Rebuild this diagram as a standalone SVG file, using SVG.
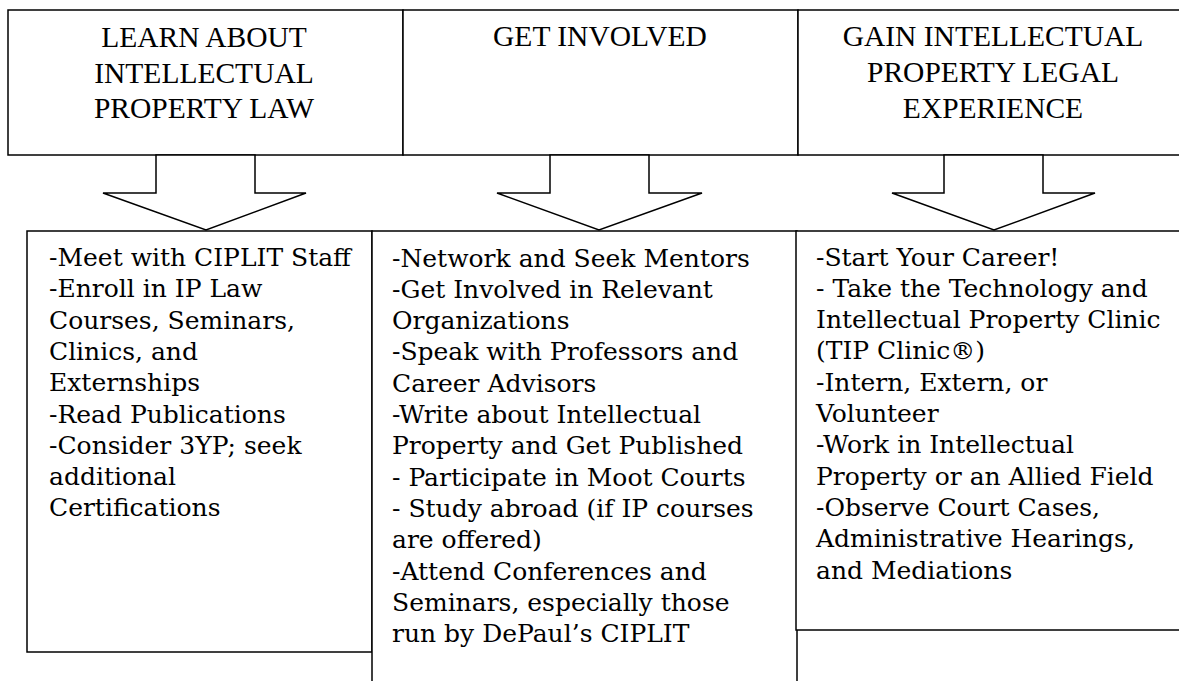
<svg xmlns="http://www.w3.org/2000/svg" width="1179" height="681" viewBox="0 0 1179 681">
<style>
.box{fill:#fff;stroke:#000;stroke-width:1.5}
.arrow{fill:#fff;stroke:#000;stroke-width:1.5;stroke-linejoin:miter}
.title{font-family:"Liberation Serif","Times New Roman",serif;font-size:29.5px;fill:#000;text-anchor:middle}
.body{font-family:"DejaVu Serif","Liberation Serif",serif;font-size:25px;fill:#000}
</style>
<rect width="1179" height="681" fill="#fff"/>
<g id="head1">
<rect class="box" x="8" y="10" width="395" height="145"/>
<text class="title"><tspan x="204" y="47">LEARN ABOUT</tspan><tspan x="204" y="82.5">INTELLECTUAL</tspan><tspan x="204" y="118">PROPERTY LAW</tspan></text>
</g>
<g id="head2">
<rect class="box" x="403" y="10" width="395" height="145"/>
<text class="title"><tspan x="600" y="46">GET INVOLVED</tspan></text>
</g>
<g id="head3">
<rect class="box" x="798" y="10" width="392" height="145"/>
<text class="title"><tspan x="993" y="46">GAIN INTELLECTUAL</tspan><tspan x="993" y="82">PROPERTY LEGAL</tspan><tspan x="993" y="118">EXPERIENCE</tspan></text>
</g>
<g id="connectors">
<polygon class="arrow" points="156,155 156,193 103,193 206,230 306,193 255,193 255,155"/>
<polygon class="arrow" points="550,155 550,193 497,193 599,230 702,193 649,193 649,155"/>
<polygon class="arrow" points="944,155 944,193 892,193 994,230 1095,193 1043,193 1043,155"/>
</g>
<g id="list1">
<rect class="box" x="27" y="231" width="345" height="421"/>
<text class="body"><tspan x="49" y="266">-Meet with CIPLIT Staff</tspan><tspan x="49" y="297.3">-Enroll in IP Law</tspan><tspan x="49" y="328.6">Courses, Seminars,</tspan><tspan x="49" y="359.9">Clinics, and</tspan><tspan x="49" y="391.2">Externships</tspan><tspan x="49" y="422.5">-Read Publications</tspan><tspan x="49" y="453.8">-Consider 3YP; seek</tspan><tspan x="49" y="485.1">additional</tspan><tspan x="49" y="516.4">Certifications</tspan></text>
</g>
<g id="list2">
<rect class="box" x="372" y="231" width="425" height="460"/>
<text class="body"><tspan x="392" y="266.5">-Network and Seek Mentors</tspan><tspan x="392" y="297.8">-Get Involved in Relevant</tspan><tspan x="392" y="329.1">Organizations</tspan><tspan x="392" y="360.4">-Speak with Professors and</tspan><tspan x="392" y="391.7">Career Advisors</tspan><tspan x="392" y="423">-Write about Intellectual</tspan><tspan x="392" y="454.3">Property and Get Published</tspan><tspan x="392" y="485.6">- Participate in Moot Courts</tspan><tspan x="392" y="516.9">- Study abroad (if IP courses</tspan><tspan x="392" y="548.2">are offered)</tspan><tspan x="392" y="579.5">-Attend Conferences and</tspan><tspan x="392" y="610.8">Seminars, especially those</tspan><tspan x="392" y="642.1">run by DePaul’s CIPLIT</tspan></text>
</g>
<g id="list3">
<rect class="box" x="796" y="231" width="394" height="399"/>
<text class="body"><tspan x="816" y="265.5">-Start Your Career!</tspan><tspan x="816" y="296.8">- Take the Technology and</tspan><tspan x="816" y="328.1">Intellectual Property Clinic</tspan><tspan x="816" y="359.4">(TIP Clinic®)</tspan><tspan x="816" y="390.7">-Intern, Extern, or</tspan><tspan x="816" y="422">Volunteer</tspan><tspan x="816" y="453.3">-Work in Intellectual</tspan><tspan x="816" y="484.6">Property or an Allied Field</tspan><tspan x="816" y="515.9">-Observe Court Cases,</tspan><tspan x="816" y="547.2">Administrative Hearings,</tspan><tspan x="816" y="578.5">and Mediations</tspan></text>
</g>
</svg>
